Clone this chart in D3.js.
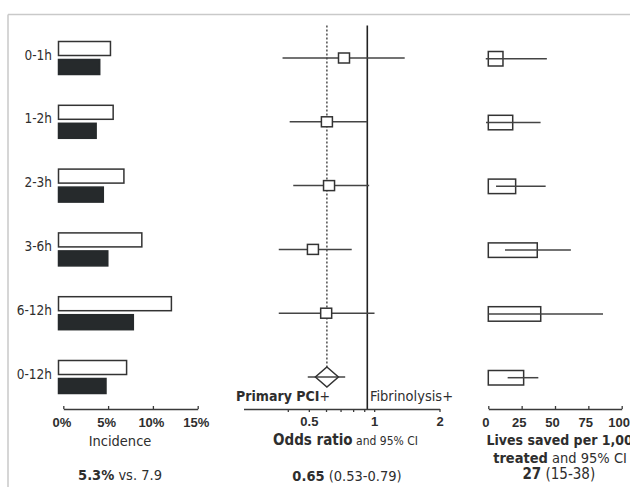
<!DOCTYPE html>
<html>
<head>
<meta charset="utf-8">
<script src="https://cdn.jsdelivr.net/npm/d3@7"></script>
<style>
  body { margin: 0; background: #fff; }
  svg { font-family: "DejaVu Sans Condensed", "Liberation Sans Narrow", sans-serif; }
  text { fill: #2e2e2e; }
  .frame { stroke: #c9c9c9; stroke-width: 1.5; }
  .axis path, .axis line { stroke: #3a3a3a; stroke-width: 1.3; fill: none; }
  .axis text { font-size: 13px; font-weight: bold; fill: #2e2e2e; }
  .bar-fib { fill: #fff; stroke: #333; stroke-width: 1.5; }
  .bar-pci { fill: #262a2c; stroke: #262a2c; stroke-width: 1.5; }
  .ci { stroke: #444; stroke-width: 1.5; }
  .marker { fill: #fff; stroke: #333; stroke-width: 1.5; }
  .box { fill: none; stroke: #333; stroke-width: 1.5; }
  .b { font-weight: bold; }
</style>
</head>
<body>
<script>
/*
DATA
*/
const periods = ["0-1h", "1-2h", "2-3h", "3-6h", "6-12h", "0-12h"];

// incidence of death (%), white = fibrinolysis, black = primary PCI
const fibrinolysis = [5.8, 6.1, 7.3, 9.3, 12.6, 7.6];
const primaryPci = [4.6, 4.2, 5.0, 5.5, 8.35, 5.3];

// odds ratio and 95% CI
const orPoint = [0.78, 0.65, 0.665, 0.56, 0.645, 0.65];
const orLow = [0.405, 0.437, 0.454, 0.389, 0.389, 0.53];
const orHigh = [1.49, 1.0, 1.02, 0.847, 1.08, 0.79];
const orPooled = 0.65;

// lives saved per 1,000 treated and 95% CI
const livesSaved = [11, 18.3, 20.5, 36.7, 39.3, 26.5];
const livesLow = [-1.9, -1.7, 5.8, 12.5, 0, 14.5];
const livesHigh = [43.9, 39.2, 43, 61.9, 86, 37.5];

const incidenceTicks = [0, 5, 10, 15];
const orTicks = [0.4, 0.5, 0.6, 0.7, 0.8, 0.9, 1, 2];
const orLabels = [0.5, 1, 2];
const livesTicks = [0, 25, 50, 75, 100];

/*
SET UP
*/
const w = 630;
const h = 487;
const axisY = 409;

const svg = d3.select("body")
  .append("svg")
  .attr("width", w)
  .attr("height", h);

// light frame at top and left
svg.append("line").attr("class", "frame")
  .attr("x1", 8).attr("y1", 14.5).attr("x2", w).attr("y2", 14.5);
svg.append("line").attr("class", "frame")
  .attr("x1", 8).attr("y1", 14.5).attr("x2", 8).attr("y2", h);

const y = d3.scalePoint()
  .domain(periods)
  .range([58, 377]);

const rows = periods.map((p, i) => ({
  period: p,
  fib: fibrinolysis[i],
  pci: primaryPci[i],
  or: orPoint[i], orLo: orLow[i], orHi: orHigh[i],
  lives: livesSaved[i], livesLo: livesLow[i], livesHi: livesHigh[i]
}));

/*
LEFT PANEL: INCIDENCE
*/
const incBar = d3.scaleLinear().domain([0, 15]).range([58.5, 192.9]);
const incAxis = d3.scaleLinear().domain([0, 15]).range([63.3, 197.7]);

svg.selectAll(".label")
  .data(rows)
  .join("text")
  .attr("class", "label")
  .attr("x", 52)
  .attr("y", (d) => y(d.period) + 1.5)
  .attr("text-anchor", "end")
  .style("font-size", "13.5px")
  .text((d) => d.period);

svg.selectAll(".bar-fib")
  .data(rows)
  .join("rect")
  .attr("class", "bar-fib")
  .attr("x", incBar(0))
  .attr("y", (d) => y(d.period) - 16.5)
  .attr("width", (d) => incBar(d.fib) - incBar(0))
  .attr("height", 14);

svg.selectAll(".bar-pci")
  .data(rows)
  .join("rect")
  .attr("class", "bar-pci")
  .attr("x", incBar(0))
  .attr("y", (d) => y(d.period) + 1.5)
  .attr("width", (d) => incBar(d.pci) - incBar(0))
  .attr("height", 15);

svg.append("g")
  .attr("class", "axis")
  .attr("transform", `translate(0,${axisY})`)
  .call(d3.axisBottom(incAxis)
    .tickValues(incidenceTicks)
    .tickFormat((d) => d + "%")
    .tickSizeInner(-3)
    .tickSizeOuter(0)
    .tickPadding(8.5))
  .selectAll("text")
  .attr("dx", -2);

svg.append("text")
  .attr("x", 120).attr("y", 445.5)
  .attr("text-anchor", "middle")
  .style("font-size", "14.5px")
  .text("Incidence");

const incSum = svg.append("text")
  .attr("x", 120).attr("y", 480)
  .attr("text-anchor", "middle")
  .style("font-size", "14.5px");
incSum.append("tspan").attr("class", "b").text("5.3%");
incSum.append("tspan").text(" vs. 7.9");

/*
MIDDLE PANEL: ODDS RATIO
*/
const orScale = d3.scaleLog().domain([0.25, 2]).range([237.3, 432.3]);
const orAxis = d3.scaleLog().domain([0.25, 2]).range([243.5, 439.5]);

// no-effect line
svg.append("line")
  .attr("x1", orScale(1)).attr("x2", orScale(1))
  .attr("y1", 25.5).attr("y2", axisY)
  .attr("stroke", "#222").attr("stroke-width", 1.6);

// pooled estimate dotted line
svg.append("line")
  .attr("x1", orScale(orPooled)).attr("x2", orScale(orPooled))
  .attr("y1", 25.5).attr("y2", y("0-12h") - 10)
  .attr("stroke", "#333").attr("stroke-width", 1.3)
  .attr("stroke-dasharray", "2,2");

const studies = rows.filter((d) => d.period !== "0-12h");
const pooled = rows.filter((d) => d.period === "0-12h");

svg.selectAll(".ci-or")
  .data(rows)
  .join("line")
  .attr("class", "ci ci-or")
  .attr("x1", (d) => orScale(d.orLo))
  .attr("x2", (d) => orScale(d.orHi))
  .attr("y1", (d) => y(d.period))
  .attr("y2", (d) => y(d.period));

svg.selectAll(".sq")
  .data(studies)
  .join("rect")
  .attr("class", "marker sq")
  .attr("x", (d) => orScale(d.or) - 5.5)
  .attr("y", (d) => y(d.period) - 5)
  .attr("width", 11)
  .attr("height", 10);

svg.selectAll(".diamond")
  .data(pooled)
  .join("path")
  .attr("class", "diamond")
  .attr("fill", "none")
  .attr("stroke", "#333")
  .attr("stroke-width", 1.5)
  .attr("d", (d) => {
    const cx = orScale(d.or), cy = y(d.period);
    return `M${cx},${cy - 10}L${cx + 11.5},${cy}L${cx},${cy + 10}L${cx - 11.5},${cy}Z`;
  });

const pci = svg.append("text")
  .attr("x", 330).attr("y", 400.7)
  .attr("text-anchor", "end")
  .style("font-size", "14px");
pci.append("tspan").attr("class", "b").text("Primary PCI");
pci.append("tspan").text("+");

svg.append("text")
  .attr("x", 370).attr("y", 400.7)
  .style("font-size", "14.5px")
  .text("Fibrinolysis+");

svg.append("g")
  .attr("class", "axis")
  .attr("transform", `translate(0,${axisY})`)
  .call(d3.axisBottom(orAxis)
    .tickValues(orTicks)
    .tickFormat((d) => orLabels.includes(d) ? d : "")
    .tickSizeInner(3)
    .tickSizeOuter(0)
    .tickPadding(4.5));

const orTitle = svg.append("text")
  .attr("x", 345.5).attr("y", 445.3)
  .attr("text-anchor", "middle");
orTitle.append("tspan").attr("class", "b").style("font-size", "15px").text("Odds ratio");
orTitle.append("tspan").style("font-size", "12px").text(" and 95% CI");

const orSum = svg.append("text")
  .attr("x", 347).attr("y", 480.7)
  .attr("text-anchor", "middle")
  .style("font-size", "14.5px");
orSum.append("tspan").attr("class", "b").text("0.65");
orSum.append("tspan").text(" (0.53-0.79)");

/*
RIGHT PANEL: LIVES SAVED
*/
const lives = d3.scaleLinear().domain([0, 100]).range([488.3, 621.7]);

svg.selectAll(".box")
  .data(rows)
  .join("rect")
  .attr("class", "box")
  .attr("x", lives(0))
  .attr("y", (d) => y(d.period) - 6.5)
  .attr("width", (d) => lives(d.lives) - lives(0))
  .attr("height", 14.5);

svg.selectAll(".ci-lives")
  .data(rows)
  .join("line")
  .attr("class", "ci ci-lives")
  .attr("x1", (d) => lives(d.livesLo))
  .attr("x2", (d) => lives(d.livesHi))
  .attr("y1", (d) => y(d.period) + 0.7)
  .attr("y2", (d) => y(d.period) + 0.7);

svg.append("g")
  .attr("class", "axis")
  .attr("transform", `translate(0,${axisY})`)
  .call(d3.axisBottom(lives)
    .tickValues(livesTicks)
    .tickSizeInner(-3)
    .tickSizeOuter(0)
    .tickPadding(8.5))
  .selectAll("text")
  .attr("dx", -3);

svg.append("text")
  .attr("x", 486.5).attr("y", 445)
  .attr("class", "b")
  .style("font-size", "14px")
  .text("Lives saved per 1,000");

const livesTitle = svg.append("text")
  .attr("x", 560).attr("y", 462.7)
  .attr("text-anchor", "middle")
  .style("font-size", "14.5px");
livesTitle.append("tspan").attr("class", "b").text("treated");
livesTitle.append("tspan").text(" and 95% CI");

const livesSum = svg.append("text")
  .attr("x", 558.8).attr("y", 479.3)
  .attr("text-anchor", "middle")
  .style("font-size", "15px");
livesSum.append("tspan").attr("class", "b").text("27");
livesSum.append("tspan").text(" (15-38)");
</script>
</body>
</html>
